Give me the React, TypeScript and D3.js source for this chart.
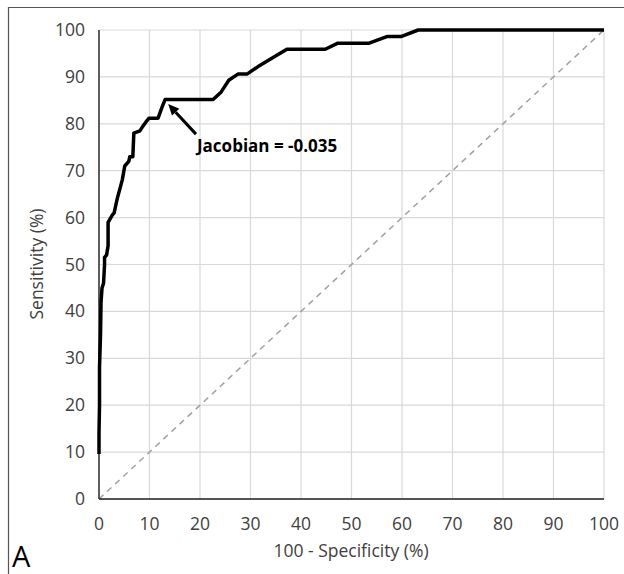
import React from "react";
import * as d3 from "d3";

const fpr: number[] = [0, 0, 0.1, 0.1, 0.3, 0.4, 0.6, 0.9, 1.1, 1.1, 1.5, 1.8, 1.8, 2.6, 3.0, 3.6, 4.6, 5.1, 5.9, 6.1, 6.7, 6.9, 8.1, 8.7, 9.3, 9.9, 11.7, 12.5, 13.1, 22.6, 24.2, 25.7, 27.5, 29.3, 31.5, 37.2, 44.8, 47.3, 53.5, 57.0, 59.8, 63.2, 100];
const tpr: number[] = [9.6, 14, 20, 28, 35, 42, 45, 46, 50, 51.5, 52, 54, 59, 60.5, 61, 64, 68, 71, 72, 73, 73, 78, 78.5, 79.5, 80.4, 81.2, 81.2, 83.6, 85.2, 85.2, 86.8, 89.3, 90.6, 90.6, 92.2, 95.9, 95.9, 97.2, 97.2, 98.6, 98.6, 100, 100];
const ticks: number[] = [0, 10, 20, 30, 40, 50, 60, 70, 80, 90, 100];
const xTitle = "100 - Specificity (%)";
const yTitle = "Sensitivity (%)";
const annotText = "Jacobian = -0.035";
const annotHead: [number, number] = [13.7, 84.2];
const annotTail: [number, number] = [19.2, 77.8];
const annotPos: [number, number] = [19.4, 74.0];
const panelLabel = "A";

export default function App() {
  const W = 624, H = 574;
  const x = d3.scaleLinear().domain([0, 100]).range([99, 604]);
  const y = d3.scaleLinear().domain([0, 100]).range([499, 30]);
  const pts: [number, number][] = fpr.map((v, i) => [v, tpr[i]]);
  const line = d3.line<[number, number]>().x(d => x(d[0])).y(d => y(d[1]));
  const font = "'Open Sans', Calibri, sans-serif";

  const hx = x(annotHead[0]), hy = y(annotHead[1]);
  const tx = x(annotTail[0]), ty = y(annotTail[1]);
  const ang = Math.atan2(hy - ty, hx - tx);
  const L = 11, Wd = 5;
  const bx = hx - L * Math.cos(ang), by = hy - L * Math.sin(ang);
  const p1 = [bx + Wd * Math.sin(ang), by - Wd * Math.cos(ang)];
  const p2 = [bx - Wd * Math.sin(ang), by + Wd * Math.cos(ang)];

  return (
    <svg width={W} height={H} style={{ position: "absolute", left: 0, top: 0 }}>
      <rect x={0} y={0} width={W} height={H} fill="#fff" />
      <path d={`M8.5,${H + 2} V7.5 H${W + 2}`} fill="none" stroke="#555" strokeWidth={1.2} />
      {ticks.map(t => (
        <g key={"g" + t}>
          <line x1={x(t)} x2={x(t)} y1={y(0)} y2={y(100)} stroke="#d9d9d9" strokeWidth={1.2} />
          <line x1={x(0)} x2={x(100)} y1={y(t)} y2={y(t)} stroke="#d9d9d9" strokeWidth={1.2} />
        </g>
      ))}
      <line x1={x(0)} y1={y(0)} x2={x(100)} y2={y(100)} stroke="#a0a0a0" strokeWidth={1.5} strokeDasharray="6,5" />
      <line x1={x(0)} x2={x(0)} y1={y(0)} y2={y(100)} stroke="#222" strokeWidth={1.4} />
      <line x1={x(0)} x2={x(100)} y1={y(0)} y2={y(0)} stroke="#222" strokeWidth={1.4} />
      <path d={line(pts) || ""} fill="none" stroke="#000" strokeWidth={3.5} strokeLinejoin="round" />
      {ticks.map(t => (
        <text key={"y" + t} x={85} y={y(t) + 6} textAnchor="end" fontFamily={font} fontSize={17.5} fill="#404040">{t}</text>
      ))}
      {ticks.map(t => (
        <text key={"x" + t} x={x(t)} y={530} textAnchor="middle" fontFamily={font} fontSize={17.5} fill="#404040">{t}</text>
      ))}
      <text x={351} y={557} textAnchor="middle" fontFamily={font} fontSize={17.5} fill="#404040">{xTitle}</text>
      <text transform={`translate(43,264) rotate(-90)`} textAnchor="middle" fontFamily={font} fontSize={17.5} fill="#404040">{yTitle}</text>
      <line x1={tx} y1={ty} x2={bx} y2={by} stroke="#000" strokeWidth={3} />
      <polygon points={`${hx},${hy} ${p1[0]},${p1[1]} ${p2[0]},${p2[1]}`} fill="#000" />
      <text x={x(annotPos[0])} y={y(annotPos[1])} fontFamily={font} fontWeight="bold" fontSize={17} fill="#000">{annotText}</text>
      <text x={12} y={567} fontFamily={font} fontSize={29} fill="#000">{panelLabel}</text>
    </svg>
  );
}
